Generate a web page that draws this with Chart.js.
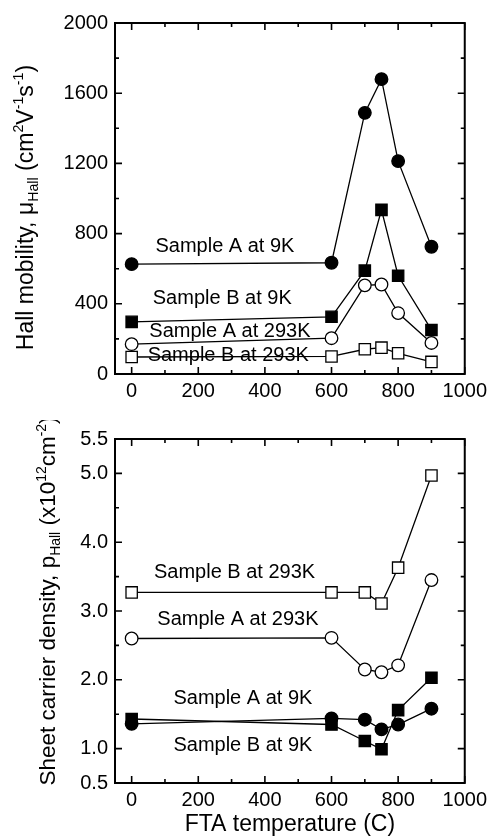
<!DOCTYPE html>
<html lang="en">
<head>
    <meta charset="UTF-8">
    <title>Hall mobility and sheet carrier density vs FTA temperature</title>
    <script src="https://cdn.jsdelivr.net/npm/chart.js"></script>
    <style>
        body { margin: 0; background: #fff; }
        .painel { position: absolute; left: 0; width: 492px; }
        #topo { top: 0; height: 420px; }
        #baixo { top: 420px; height: 419px; }
    </style>
</head>
<body>
    <div class="painel" id="topo"><canvas id="chartMu" width="492" height="420"></canvas></div>
    <div class="painel" id="baixo"><canvas id="chartP" width="492" height="419"></canvas></div>

<script>
    // FTA temperatures (C)
    var temps = [0, 600, 700, 750, 800, 900];

    // Hall mobility (cm2 V-1 s-1)
    var muA9K = [626, 634, 1488, 1680, 1213, 725];
    var muB9K = [297, 326, 589, 935, 560, 251];
    var muA293K = [170, 204, 505, 510, 347, 177];
    var muB293K = [97, 100, 141, 150, 118, 69];

    // sheet carrier density (x10^12 cm-2)
    var pB293K = [3.27, 3.27, 3.27, 3.11, 3.63, 4.97];
    var pA293K = [2.60, 2.61, 2.15, 2.11, 2.21, 3.45];
    var pA9K = [1.36, 1.44, 1.42, 1.28, 1.35, 1.58];
    var pB9K = [1.43, 1.35, 1.11, 0.99, 1.56, 2.03];

    // ticks
    var xTicks = [0, 200, 400, 600, 800, 1000];
    var xMinor = [100, 300, 500, 700, 900];
    var muTicks = [0, 400, 800, 1200, 1600, 2000];
    var muMinor = [200, 600, 1000, 1400, 1800];
    var pTicks = [0.5, 1, 2, 3, 4, 5, 5.5];
    var pMinor = [1.5, 2.5, 3.5, 4.5];

    // curve labels (placed in data units)
    var muNames = ['Sample A at 9K', 'Sample B at 9K', 'Sample A at 293K', 'Sample B at 293K'];
    var muNameX = [280, 272, 295, 290];
    var muNameY = [724, 433, 245, 103];
    var pNames = ['Sample B at 293K', 'Sample A at 293K', 'Sample A at 9K', 'Sample B at 9K'];
    var pNameX = [309, 319, 334, 334];
    var pNameY = [3.56, 2.87, 1.735, 1.05];

    var fonte = '"Liberation Sans", Arial, Helvetica, sans-serif';

    function pontos(valores) {
        return temps.map(function (t, i) { return { x: t, y: valores[i] }; });
    }

    function serie(valores, forma, cheio) {
        return {
            data: pontos(valores),
            borderColor: '#000',
            borderWidth: 1.3,
            tension: 0,
            pointStyle: forma,
            pointRadius: forma == 'rect' ? 8 : 6.3,
            pointBorderWidth: 1.3,
            pointBorderColor: '#000',
            pointBackgroundColor: cheio ? '#000' : '#fff'
        };
    }

    // box round the plot with inward ticks on all four sides
    var moldura = {
        id: 'moldura',
        afterDraw: function (chart, args, op) {
            var ctx = chart.ctx, a = chart.chartArea;
            var sx = chart.scales.x, sy = chart.scales.y;
            ctx.save();
            ctx.strokeStyle = '#000';
            ctx.lineWidth = 1.6;
            function marcasX(lista, len) {
                lista.forEach(function (v) {
                    var px = sx.getPixelForValue(v);
                    ctx.beginPath();
                    ctx.moveTo(px, a.bottom); ctx.lineTo(px, a.bottom - len);
                    ctx.moveTo(px, a.top); ctx.lineTo(px, a.top + len);
                    ctx.stroke();
                });
            }
            function marcasY(lista, len) {
                lista.forEach(function (v) {
                    var py = sy.getPixelForValue(v);
                    ctx.beginPath();
                    ctx.moveTo(a.left, py); ctx.lineTo(a.left + len, py);
                    ctx.moveTo(a.right, py); ctx.lineTo(a.right - len, py);
                    ctx.stroke();
                });
            }
            marcasX(op.xMajor, 7);
            marcasX(op.xMinor, 4);
            marcasY(op.yMajor, 7);
            marcasY(op.yMinor, 4);
            ctx.lineWidth = 2;
            ctx.strokeRect(a.left, a.top, a.right - a.left, a.bottom - a.top);
            ctx.restore();
        }
    };

    // curve names written inside the plot
    var nomes = {
        id: 'nomes',
        beforeDatasetsDraw: function (chart, args, op) {
            var ctx = chart.ctx;
            ctx.save();
            ctx.fillStyle = '#000';
            ctx.font = '20px ' + fonte;
            ctx.textAlign = 'center';
            ctx.textBaseline = 'middle';
            op.textos.forEach(function (t, i) {
                ctx.fillText(t, chart.scales.x.getPixelForValue(op.xs[i]), chart.scales.y.getPixelForValue(op.ys[i]));
            });
            ctx.restore();
        }
    };

    // rotated y title with sub/superscripts
    var tituloY = {
        id: 'tituloY',
        afterDraw: function (chart, args, op) {
            var ctx = chart.ctx, a = chart.chartArea;
            var tam = op.tamanho;
            ctx.save();
            ctx.fillStyle = '#000';
            var larg = 0;
            op.partes.forEach(function (p) {
                ctx.font = (p.s ? tam * 0.62 : tam) + 'px ' + fonte;
                p.w = ctx.measureText(p.t).width;
                larg += p.w;
            });
            ctx.translate(op.x, (a.top + a.bottom) / 2 + op.desvio);
            ctx.rotate(-Math.PI / 2);
            ctx.textBaseline = 'alphabetic';
            var pos = -larg / 2;
            op.partes.forEach(function (p) {
                ctx.font = (p.s ? tam * 0.62 : tam) + 'px ' + fonte;
                var dy = 0;
                if (p.s == 'sub') dy = tam * 0.22;
                if (p.s == 'sup') dy = -tam * 0.42;
                ctx.fillText(p.t, pos, dy);
                pos += p.w;
            });
            ctx.restore();
        }
    };

    function eixos(yMin, yMax, yTicks, fmt, alturaX, tituloX) {
        return {
            x: {
                type: 'linear',
                min: -50,
                max: 1000,
                grid: { display: false, drawTicks: false },
                border: { display: false },
                afterBuildTicks: function (s) { s.ticks = xTicks.map(function (v) { return { value: v }; }); },
                afterFit: function (s) { s.height = alturaX; },
                ticks: {
                    color: '#000', padding: 5, maxRotation: 0, font: { family: fonte, size: 20 },
                    callback: function (v) { return String(v); }
                },
                title: tituloX ? { display: true, text: tituloX, color: '#000', padding: { top: 0, bottom: 1 }, font: { family: fonte, size: 23 } } : { display: false }
            },
            y: {
                type: 'linear',
                min: yMin,
                max: yMax,
                grid: { display: false, drawTicks: false },
                border: { display: false },
                afterBuildTicks: function (s) { s.ticks = yTicks.map(function (v) { return { value: v }; }); },
                afterFit: function (s) { s.width = 115; },
                ticks: { color: '#000', padding: 7, font: { family: fonte, size: 20 }, callback: fmt }
            }
        };
    }

    new Chart(document.getElementById('chartMu'), {
        type: 'line',
        data: {
            datasets: [
                serie(muB293K, 'rect', false),
                serie(muA293K, 'circle', false),
                serie(muB9K, 'rect', true),
                serie(muA9K, 'circle', true)
            ]
        },
        options: {
            responsive: false,
            devicePixelRatio: 1,
            animation: false,
            layout: { padding: { left: 0, right: 24, top: 23, bottom: 0 } },
            scales: eixos(0, 2000, muTicks, function (v) { return String(v); }, 46, null),
            plugins: {
                legend: { display: false },
                tooltip: { enabled: false },
                moldura: { xMajor: xTicks, xMinor: xMinor, yMajor: muTicks, yMinor: muMinor },
                nomes: { textos: muNames, xs: muNameX, ys: muNameY },
                tituloY: {
                    x: 33, desvio: 9, tamanho: 23,
                    partes: [
                        { t: 'Hall mobility, \u03BC' }, { t: 'Hall', s: 'sub' }, { t: ' (cm' }, { t: '2', s: 'sup' },
                        { t: 'V' }, { t: '-1', s: 'sup' }, { t: 's' }, { t: '-1', s: 'sup' }, { t: ')' }
                    ]
                }
            }
        },
        plugins: [nomes, moldura, tituloY]
    });

    new Chart(document.getElementById('chartP'), {
        type: 'line',
        data: {
            datasets: [
                serie(pB293K, 'rect', false),
                serie(pA293K, 'circle', false),
                serie(pB9K, 'rect', true),
                serie(pA9K, 'circle', true)
            ]
        },
        options: {
            responsive: false,
            devicePixelRatio: 1,
            animation: false,
            layout: { padding: { left: 0, right: 24, top: 16, bottom: 0 } },
            scales: eixos(0.5, 5.5, pTicks, function (v) { return v.toFixed(1); }, 56, 'FTA temperature (C)'),
            plugins: {
                legend: { display: false },
                tooltip: { enabled: false },
                moldura: { xMajor: xTicks, xMinor: xMinor, yMajor: pTicks, yMinor: pMinor },
                nomes: { textos: pNames, xs: pNameX, ys: pNameY },
                tituloY: {
                    x: 55, desvio: -10, tamanho: 22.5,
                    partes: [
                        { t: 'Sheet carrier density, p' }, { t: 'Hall', s: 'sub' }, { t: ' (x10' }, { t: '12', s: 'sup' },
                        { t: 'cm' }, { t: '-2', s: 'sup' }, { t: ')' }
                    ]
                }
            }
        },
        plugins: [nomes, moldura, tituloY]
    });
</script>
</body>
</html>
